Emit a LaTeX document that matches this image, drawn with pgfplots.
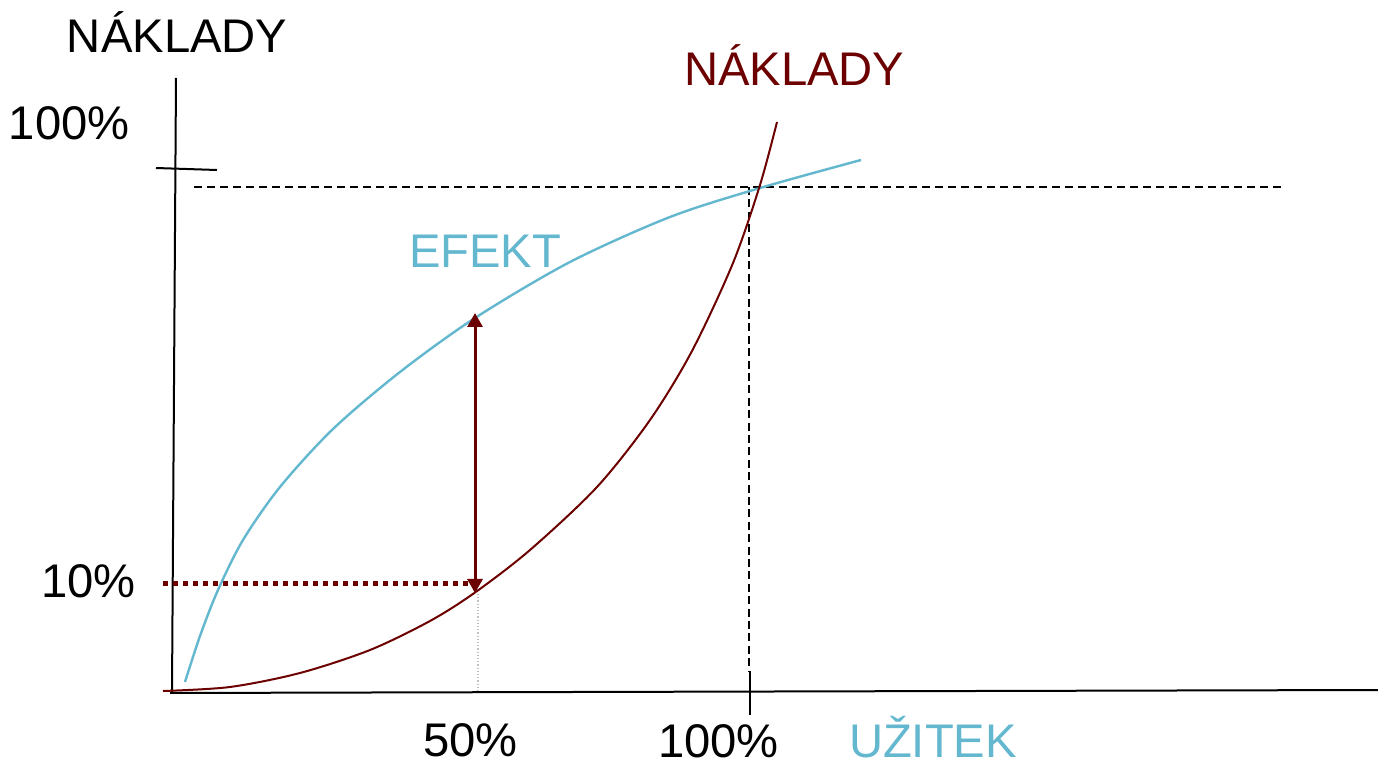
\documentclass[border=0pt]{standalone}
\usepackage{pgfplots}
\pgfplotsset{compat=1.18}
\usepackage{fontspec}
\setmainfont{Liberation Sans}
\usetikzlibrary{arrows.meta}
\definecolor{efekt}{RGB}{99,183,206}
\definecolor{naklady}{RGB}{108,0,0}
\tikzset{lbl/.style={font=\fontsize{23.6}{28}\selectfont, inner sep=0pt, outer sep=0pt, anchor=base west}}
\begin{document}
\begin{tikzpicture}
\begin{axis}[
  hide axis, scale only axis, width=689pt, height=382.5pt,
  xmin=0, xmax=1378, ymin=0, ymax=765, y dir=reverse, clip=false,
]
% axes
\addplot[black, line width=1pt] coordinates {(176,78) (172,692)};
\addplot[black, line width=1pt] coordinates {(170,693) (1378,690)};
\addplot[black, line width=1pt] coordinates {(156,168) (217,170)};
\addplot[black, line width=1pt] coordinates {(750,671) (750,715)};
% dashed guides
\addplot[black, line width=1pt, dash pattern=on 4pt off 2.5pt] coordinates {(194,187) (1283,187)};
\addplot[black, line width=1pt, dash pattern=on 4pt off 2.2pt] coordinates {(749,187) (749,671)};
\addplot[black!25, line width=0.6pt, densely dotted] coordinates {(478,594) (478,692)};
\addplot[naklady, line width=2.5pt, dash pattern=on 2.5pt off 2.5pt] coordinates {(163,583) (473,583)};
% EFEKT curve
\addplot[efekt, line width=1.2pt, smooth] coordinates {
(185,682) (200,636) (218,590) (243,540) (280,487) (333,429) (400,372) (475,318)
(570,262) (670,217) (760,188) (861,160)};
% NAKLADY curve
\addplot[naklady, line width=1pt, smooth] coordinates {
(163,691) (230,687) (300,673) (370,650) (430,621) (475,592.5) (530,550) (597,487)
(650,420) (692,351) (733,263) (760,185) (777,122)};
% arrow
\addplot[naklady, line width=1.5pt, {Triangle[length=7pt,width=7.5pt]}-{Triangle[length=7pt,width=7.5pt]}] coordinates {(475,313) (475,593)};
% labels
\node[lbl] at (axis cs:67,53) {NÁKLADY};
\node[lbl, text=naklady] at (axis cs:684,86) {NÁKLADY};
\node[lbl, text=efekt] at (axis cs:409,268) {EFEKT};
\node[lbl] at (axis cs:9,140) {100\%};
\node[lbl] at (axis cs:41,597) {10\%};
\node[lbl] at (axis cs:423,756) {50\%};
\node[lbl] at (axis cs:658,757) {100\%};
\node[lbl, text=efekt] at (axis cs:849,757) {UŽITEK};
\end{axis}
\pgfresetboundingbox
\path (current axis.south west) rectangle (current axis.north east);
\end{tikzpicture}
\end{document}
